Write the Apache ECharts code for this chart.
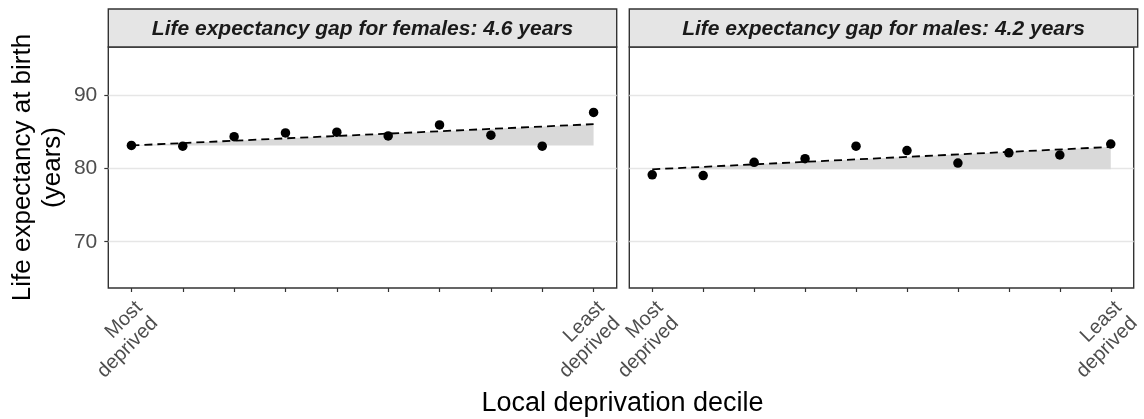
<!DOCTYPE html>
<html>
<head>
<meta charset="utf-8">
<script src="https://cdn.jsdelivr.net/npm/echarts@6/dist/echarts.min.js"></script>
<style>
  html, body { margin: 0; padding: 0; background: #fff; }
  #chart { width: 1144px; height: 419px; }
</style>
</head>
<body>
<div id="chart"></div>
<script>
// deciles 1 (most deprived) .. 10 (least deprived)
const deciles = [1, 2, 3, 4, 5, 6, 7, 8, 9, 10]
const panelTitles = [
  "Life expectancy gap for females: 4.6 years",
  "Life expectancy gap for males: 4.2 years",
]
const femaleValues = [83.1, 83.0, 84.3, 84.8, 84.9, 84.4, 85.9, 84.5, 83.0, 87.6]
const maleValues = [79.1, 79.0, 80.8, 81.3, 83.0, 82.4, 80.7, 82.1, 81.8, 83.3]
// fitted line at decile 1 and decile 10
const femaleTrend = [83.1, 86.0]
const maleTrend = [79.85, 82.9]
const yTicks = [70, 80, 90]
const xLabels = { 1: "Most\ndeprived", 10: "Least\ndeprived" }

const font = "Liberation Sans, Arial, sans-serif"
const panelLeft = [108.3, 629.3]
const panelW = 508.4
const panelTop = 47
const panelH = 241

const chart = echarts.init(document.getElementById("chart"))

const grids = panelLeft.map((l) => ({
  left: l,
  top: panelTop,
  width: panelW,
  height: panelH,
  show: true,
  borderColor: "#333",
  borderWidth: 1.4,
  backgroundColor: "#fff",
  containLabel: false,
}))

const xAxes = [0, 1].map((i) => ({
  type: "value",
  gridIndex: i,
  min: 0.55,
  max: 10.45,
  axisLine: { show: false },
  splitLine: { show: false },
  axisTick: { show: true, length: 4, customValues: deciles, lineStyle: { color: "#333", width: 1.2 } },
  axisLabel: {
    customValues: [1, 10],
    rotate: 45,
    margin: 9,
    fontSize: 20,
    color: "#4d4d4d",
    fontFamily: font,
    lineHeight: 22,
    align: "right",
    verticalAlign: "top",
    formatter: (v) => xLabels[v] || "",
  },
}))

const yAxes = [0, 1].map((i) => ({
  type: "value",
  gridIndex: i,
  min: 63.7,
  max: 96.5,
  axisLine: { show: false },
  axisTick: { show: i === 0, length: 4, customValues: yTicks, lineStyle: { color: "#333", width: 1.2 } },
  axisLabel: {
    show: i === 0,
    customValues: yTicks,
    margin: 11,
    fontSize: 21,
    color: "#4d4d4d",
    fontFamily: font,
  },
  splitLine: { show: true, lineStyle: { color: "#e6e6e6", width: 1.4 } },
  name: i === 0 ? "Life expectancy at birth\n(years)" : "",
  nameLocation: "middle",
  nameGap: 40,
  nameTextStyle: { fontSize: 26, color: "#000", fontFamily: font, lineHeight: 30 },
}))

const series = []
;[femaleValues, maleValues].forEach((vals, i) => {
  const trend = i === 0 ? femaleTrend : maleTrend
  const trendData = [[deciles[0], trend[0]], [deciles[deciles.length - 1], trend[1]]]
  // shaded gap between the fitted line and its starting level
  series.push({
    type: "line",
    xAxisIndex: i,
    yAxisIndex: i,
    data: trendData,
    symbol: "none",
    lineStyle: { width: 0 },
    areaStyle: { color: "#d9d9d9", opacity: 1, origin: trend[0] },
    silent: true,
    z: 1,
  })
  series.push({
    type: "line",
    xAxisIndex: i,
    yAxisIndex: i,
    data: trendData,
    symbol: "none",
    lineStyle: { color: "#000", width: 1.8, type: [8, 5] },
    z: 2,
  })
  series.push({
    type: "scatter",
    xAxisIndex: i,
    yAxisIndex: i,
    data: deciles.map((d, k) => [d, vals[k]]),
    symbolSize: 9.5,
    itemStyle: { color: "#000", opacity: 1 },
    z: 3,
  })
})

const graphics = []
panelLeft.forEach((l, i) => {
  graphics.push({
    type: "rect",
    shape: { x: l, y: 9, width: panelW, height: panelTop - 9 },
    style: { fill: "#e5e5e5", stroke: "#333", lineWidth: 1.4 },
  })
  graphics.push({
    type: "text",
    x: l + panelW / 2,
    y: 29,
    style: {
      text: panelTitles[i],
      fontSize: 21,
      fontWeight: "bold",
      fontStyle: "italic",
      fontFamily: font,
      fill: "#1a1a1a",
      textAlign: "center",
      textVerticalAlign: "middle",
    },
  })
})
graphics.push({
  type: "text",
  x: 622.5,
  y: 404,
  style: {
    text: "Local deprivation decile",
    fontSize: 27,
    fontFamily: font,
    fill: "#000",
    textAlign: "center",
    textVerticalAlign: "middle",
  },
})

chart.setOption({
  animation: false,
  grid: grids,
  xAxis: xAxes,
  yAxis: yAxes,
  series: series,
  graphic: graphics,
})
</script>
</body>
</html>
